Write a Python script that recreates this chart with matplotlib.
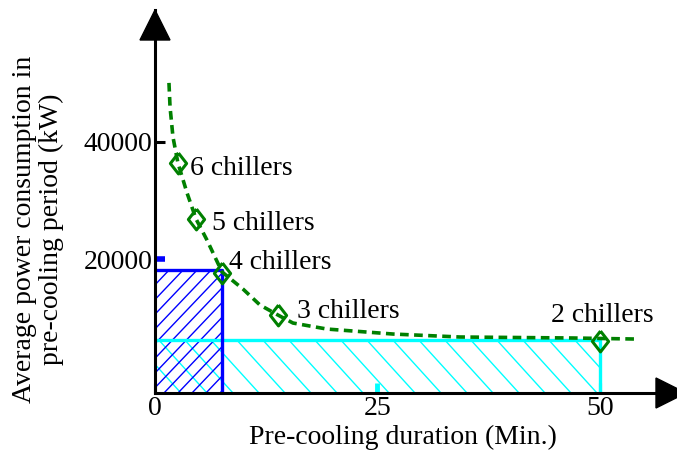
import numpy as np
import matplotlib
matplotlib.use('Agg')
import matplotlib.pyplot as plt
from matplotlib.patches import Rectangle, Polygon
from matplotlib.lines import Line2D
from matplotlib.transforms import IdentityTransform

plt.rcParams['font.family'] = ['Liberation Serif', 'DejaVu Serif']
plt.rcParams['font.size'] = 20

# fitted power / duration trade-off curve
curve_min = [1.57, 1.69, 2.02, 2.58, 3.60, 4.61, 5.84, 7.53, 9.89, 11.80,
             13.82, 15.51, 19.33, 26.74, 34.27, 46.97, 54.16]
curve_kw = [50100, 46000, 40850, 36400, 31300, 26850, 23250, 17800, 14870, 12140,
            10430, 9060, 8030, 7180, 6670, 6500, 6320]

# operating points per number of chillers
chiller_labels = ['6 chillers', '5 chillers', '4 chillers', '3 chillers', '2 chillers']
chiller_min = [2.6, 4.6, 7.5, 13.8, 50]
chiller_kw = [36400, 26800, 17600, 10400, 6000]

# energy boxes (duration, average power)
blue_min, blue_kw = 7.5, 18100
cyan_min, cyan_kw = 50, 6100

xticks = [0, 25, 50]
xtick_colors = ['black', 'cyan', 'black']
yticks = [20000, 40000]
ytick_colors = ['blue', 'black']

green = '#008000'


def hatch_box(ax, rect, spacing, slope, color, lw):
    # diagonal hatch lines in pixel space, clipped to the rectangle
    x0, y0 = rect.get_xy()
    (px0, py0) = ax.transData.transform((x0, y0))
    (px1, py1) = ax.transData.transform((x0 + rect.get_width(), y0 + rect.get_height()))
    hh = py1 - py0
    run = hh / abs(slope)
    for xs in np.arange(px0 - run - spacing, px1 + spacing, spacing):
        if slope > 0:
            xx, yy = [xs, xs + run], [py0, py1]
        else:
            xx, yy = [xs, xs + run], [py1, py0]
        ln = Line2D(xx, yy, color=color, lw=lw, transform=IdentityTransform(),
                    zorder=rect.get_zorder())
        ax.add_line(ln)
        ln.set_clip_path(rect)


fig = plt.figure(figsize=(6.77, 4.65), dpi=100)
ax = fig.add_axes([155 / 677, 72 / 465, 531 / 677, 383 / 465])
ax.set_xlim(0, 59.7)
ax.set_ylim(-2900, 62560)
ax.set_autoscale_on(False)
y0 = ax.get_ylim()[0]

for side in ['top', 'right']:
    ax.spines[side].set_visible(False)
for side in ['left', 'bottom']:
    ax.spines[side].set_linewidth(2.2)
    ax.spines[side].set_color('black')

# arrow heads on both axes
w, h = 531.0, 383.0
ax.add_patch(Polygon([(0, 1), (-15 / w, 1 - 30 / h), (15 / w, 1 - 30 / h)],
                     closed=True, color='black', transform=ax.transAxes,
                     clip_on=False, zorder=5))
ax.add_patch(Polygon([(1, 0), (1 - 30 / w, 15 / h), (1 - 30 / w, -15 / h)],
                     closed=True, color='black', transform=ax.transAxes,
                     clip_on=False, zorder=5))

# cyan box
cyan_rect = Rectangle((0, y0), cyan_min, cyan_kw - y0, fill=False,
                      edgecolor='none', lw=0, zorder=1)
ax.add_patch(cyan_rect)
hatch_box(ax, cyan_rect, 26, -1.1, 'cyan', 1.0)
ax.plot([0, cyan_min, cyan_min], [cyan_kw, cyan_kw, y0], color='cyan',
        lw=2.4, zorder=2, solid_capstyle='butt')

# blue box
blue_rect = Rectangle((0, y0), blue_min, blue_kw - y0, fill=False,
                      edgecolor='none', lw=0, zorder=1.5)
ax.add_patch(blue_rect)
hatch_box(ax, blue_rect, 14, 1.05, 'blue', 1.0)
ax.plot([0, blue_min, blue_min], [blue_kw, blue_kw, y0], color='blue',
        lw=2.4, zorder=2.2, solid_capstyle='butt')

ax.plot(curve_min, curve_kw, color=green, lw=2.6, ls=(0, (2.4, 1.5)), zorder=3)

diamond = [(0, 1), (0.78, 0), (0, -1), (-0.78, 0), (0, 1)]
ax.plot(chiller_min, chiller_kw, ls='none', marker=diamond, markersize=15,
        markerfacecolor='none', markeredgecolor=green, markeredgewidth=2.2,
        zorder=4)

offsets = [(12, -12), (16, -11), (7, 4), (19, -3), (-49, 19)]
for lab, xm, ym, off in zip(chiller_labels, chiller_min, chiller_kw, offsets):
    ax.annotate(lab, (xm, ym), xytext=off, textcoords='offset pixels',
                ha='left', va='baseline', fontsize=20)

ax.set_xticks(xticks)
ax.set_xticklabels([str(v) for v in xticks])
ax.set_yticks(yticks)
ax.set_yticklabels([str(v) for v in yticks])
ax.tick_params(axis='both', direction='in', length=7.5, width=2.2, labelsize=20)
ax.tick_params(axis='x', pad=2)
ax.tick_params(axis='y', pad=2)
for t, c in zip(ax.xaxis.get_major_ticks(), xtick_colors):
    t.tick1line.set_markeredgecolor(c)
    if c == 'cyan':
        t.tick1line.set_markeredgewidth(3.5)
for t, c in zip(ax.yaxis.get_major_ticks(), ytick_colors):
    t.tick1line.set_markeredgecolor(c)
    if c == 'blue':
        t.tick1line.set_markeredgewidth(4)

fig.text(38 / 677, (465 - 229) / 465,
         'Average power consumption in\npre-cooling period (kW)',
         rotation=90, ha='center', va='center', fontsize=20, linespacing=1.1)
fig.text(403 / 677, (465 - 437) / 465, 'Pre-cooling duration (Min.)',
         ha='center', va='center', fontsize=20)

fig.savefig('out.png', dpi=100)
